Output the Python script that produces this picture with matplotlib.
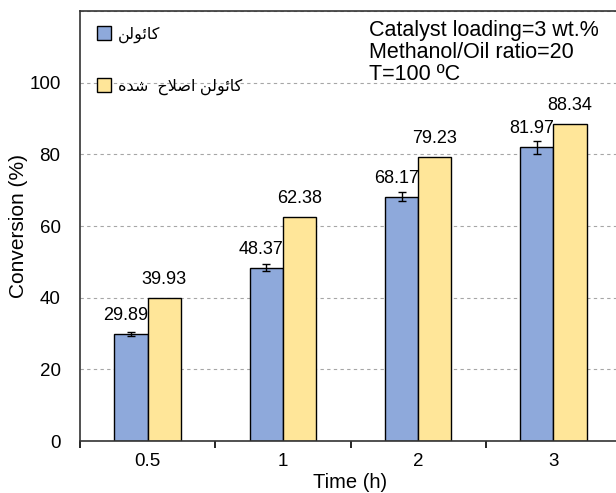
import numpy as np
import matplotlib
matplotlib.use('Agg')
import matplotlib.pyplot as plt
from matplotlib.lines import Line2D

plt.rcParams['font.family'] = ['Liberation Sans', 'DejaVu Sans']

# data
times = ['0.5', '1', '2', '3']
kaolin = [29.89, 48.37, 68.17, 81.97]
kaolin_err = [0.6, 0.9, 1.3, 1.8]
modified = [39.93, 62.38, 79.23, 88.34]

# Persian labels written in visual order with presentation forms
# (matplotlib does no Arabic shaping / bidi)
lbl_kaolin = '\uFEE6\uFEDF\uFEEE\uFE8B\uFE8E\uFB90'          # کائولن
lbl_modified = ('\uFEE9\uFEAA\uFEB7' + '  ' +               # شده
                '\uFEA1\uFEFC\uFEBB\uFE8D' + ' ' +          # اصلاح
                lbl_kaolin)

blue = '#8EA9DB'
yellow = '#FFE699'

fig = plt.figure(figsize=(6.16, 4.93), dpi=100)
ax = fig.add_axes([80 / 616, 52 / 493, 541 / 616, 430 / 493])

x = np.arange(len(times))
w = 0.245
ax.bar(x - w / 2, kaolin, w, color=blue, edgecolor='black', linewidth=1.0, zorder=3)
ax.errorbar(x - w / 2, kaolin, yerr=kaolin_err, fmt='none', ecolor='black',
            elinewidth=1.0, capsize=3, capthick=1.0, zorder=4)
ax.bar(x + w / 2, modified, w, color=yellow, edgecolor='black', linewidth=1.0, zorder=3)

# value labels sit under the bars (the 81.97 label is partly hidden in the original)
for xi, v in zip(x - w / 2, kaolin):
    ax.text(xi - 0.04, v + 2.8, f'{v:.2f}', ha='center', va='bottom',
            fontsize=13, zorder=2.9)
for xi, v in zip(x + w / 2, modified):
    ax.text(xi, v + 2.8, f'{v:.2f}', ha='center', va='bottom',
            fontsize=13, zorder=2.9)

ax.set_xlim(-0.5, len(times) - 0.5)
ax.set_ylim(0, 120)
ax.set_yticks([0, 20, 40, 60, 80, 100, 120])
ax.set_yticklabels(['0', '20', '40', '60', '80', '100', ''])
ax.set_xticks(x)
ax.set_xticklabels(times)
ax.set_xticks(np.arange(-0.5, len(times)), minor=True)
ax.tick_params(axis='x', which='major', length=0, labelsize=13.5, pad=9)
ax.tick_params(axis='x', which='minor', length=5, width=1.2, direction='out')
ax.tick_params(axis='y', length=0, labelsize=13.5, pad=14)

ax.grid(axis='y', linestyle=(0, (3, 3)), color='#a6a6a6', linewidth=0.8, zorder=0)
for s in ['left', 'bottom', 'top']:
    ax.spines[s].set_linewidth(1.2)
    ax.spines[s].set_color('#333333')
ax.spines['bottom'].set_zorder(5)

ax.set_xlabel('Time (h)', fontsize=14.5, labelpad=2)
ax.set_ylabel('Conversion (%)', fontsize=15, labelpad=1)

handles = [Line2D([], [], marker='s', linestyle='none', markersize=10,
                  markerfacecolor=blue, markeredgecolor='black'),
           Line2D([], [], marker='s', linestyle='none', markersize=10,
                  markerfacecolor=yellow, markeredgecolor='black')]
ax.legend(handles, [lbl_kaolin, lbl_modified], loc='upper left',
          bbox_to_anchor=(0.0, 0.997), frameon=False, fontsize=11.5,
          labelspacing=2.2, handletextpad=0.25, handlelength=1.2)

ax.text(0.535, 0.978, 'Catalyst loading=3 wt.%\nMethanol/Oil ratio=20\nT=100 \u00baC',
        transform=ax.transAxes, ha='left', va='top', fontsize=15.5, linespacing=1.05)

fig.savefig('out.png', dpi=100)
